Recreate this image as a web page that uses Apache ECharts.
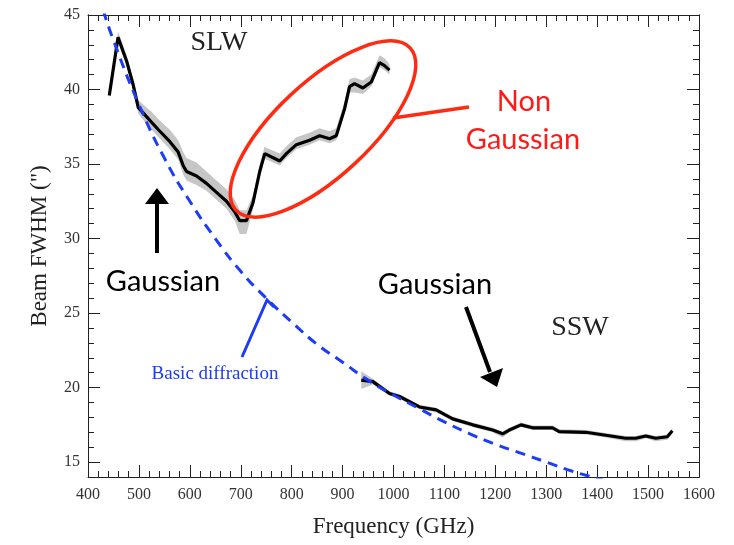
<!DOCTYPE html>
<html>
<head>
<meta charset="utf-8">
<script src="https://cdn.jsdelivr.net/npm/echarts@6/dist/echarts.min.js"></script>
<style>
  html, body { margin: 0; padding: 0; background: #fff; }
  #chart { width: 734px; height: 545px; }
</style>
</head>
<body>
<div id="chart"></div>
<script>
// SLW band: beam FWHM versus frequency, with the spread of the measurement
const freqSLW = [441.8, 459, 475.9, 488.8, 498.6, 511.8, 524.9, 541.2, 560.8, 577.1, 586.9, 593.5,
  613.1, 632.7, 652.4, 672, 688.2, 698, 711.2, 724.1, 737.3, 747.1, 750.4, 776.5, 789.6, 809.2,
  835.3, 854.9, 874.5, 887.6, 903.9, 913.7, 923.5, 939.8, 956.3, 972.5, 982.4, 992.2];
const fwhmSLW = [39.6, 43.5, 41.9, 40.3, 38.8, 38.3, 37.8, 37.2, 36.5, 35.8, 34.9, 34.5,
  34.2, 33.7, 33.1, 32.5, 31.8, 31.2, 31.2, 32.4, 34.5, 35.7, 35.6, 35.2, 35.7, 36.3,
  36.6, 36.9, 36.7, 36.9, 38.7, 40.2, 40.4, 40.1, 40.5, 41.8, 41.6, 41.3];
// lower / upper spread around the SLW curve
const spreadLoSLW = [0.2, 0.3, 0.3, 0.3, 0.4, 0.5, 0.5, 0.5, 0.5, 0.5, 0.6, 0.6,
  0.6, 0.5, 0.5, 0.5, 0.6, 0.9, 0.9, 0.4, 0.3, 0.3, 0.3, 0.3, 0.3, 0.3,
  0.3, 0.3, 0.3, 0.3, 0.3, 0.4, 0.6, 0.4, 0.3, 0.3, 0.3, 0.3];
const spreadHiSLW = [0.2, 0.4, 0.4, 0.4, 0.5, 0.6, 0.7, 0.7, 0.8, 0.8, 0.9, 0.9,
  0.9, 0.8, 0.8, 0.8, 0.8, 0.7, 0.7, 0.5, 0.5, 0.5, 0.5, 0.5, 0.5, 0.5,
  0.5, 0.5, 0.5, 0.5, 0.5, 0.5, 0.4, 0.5, 0.5, 0.5, 0.5, 0.4];

// SSW band
const freqSSW = [936.7, 959.4, 992.2, 1011.8, 1051, 1083.7, 1116.3, 1155.5, 1194.7, 1214.3, 1227.5,
  1250.4, 1273.1, 1312.4, 1325.5, 1377.8, 1416.9, 1456.1, 1475.7, 1495.5, 1515, 1537.8, 1547.6];
const fwhmSSW = [20.5, 20.4, 19.6, 19.4, 18.7, 18.5, 17.9, 17.5, 17.15, 16.9, 17.15,
  17.5, 17.3, 17.3, 17.05, 17.0, 16.8, 16.6, 16.6, 16.75, 16.6, 16.7, 17.1];
const spreadLoSSW = [0.6, 0.2, 0.15, 0.15, 0.15, 0.15, 0.15, 0.15, 0.15, 0.25, 0.15,
  0.15, 0.15, 0.15, 0.15, 0.15, 0.15, 0.2, 0.2, 0.15, 0.2, 0.2, 0.15];
const spreadHiSSW = [0.6, 0.2, 0.15, 0.15, 0.15, 0.15, 0.15, 0.15, 0.15, 0.15, 0.15,
  0.15, 0.15, 0.15, 0.15, 0.15, 0.15, 0.15, 0.15, 0.15, 0.15, 0.15, 0.15];

// Basic diffraction-limited beam width
const freqDiff = [430, 450, 500, 550, 600, 650, 700, 750, 800, 850, 900, 950, 1000, 1050,
  1100, 1150, 1200, 1250, 1300, 1350, 1400, 1420];
const fwhmDiff = [45.3, 43.3, 39.0, 35.4, 32.5, 30.0, 27.8, 26.0, 24.4, 22.9, 21.7, 20.5, 19.5, 18.6,
  17.7, 16.9, 16.2, 15.6, 15.0, 14.4, 13.9, 13.7];

// Axis ticks
const yMajorTicks = [15, 20, 25, 30, 35, 40, 45];
const yMinorTicks = [];
for (let v = 15; v <= 45; v++) yMinorTicks.push(v);

const pairs = (xs, ys) => xs.map((x, i) => [x, ys[i]]);

const chart = echarts.init(document.getElementById('chart'));

const serif = 'Liberation Serif';

const xAxisBase = {
  type: 'value', min: 400, max: 1600, interval: 100,
  axisLine: { show: true, onZero: false, lineStyle: { color: '#222', width: 1 } },
  axisTick: { show: true, inside: true, length: 12, lineStyle: { color: '#222' } },
  minorTick: { show: true, splitNumber: 5, length: 6, lineStyle: { color: '#222' } },
  splitLine: { show: false }, minorSplitLine: { show: false }
};
const yAxisBase = {
  type: 'value', min: 14, max: 45,
  axisLine: { show: true, onZero: false, lineStyle: { color: '#222', width: 1 } },
  splitLine: { show: false },
  axisLabel: { show: false }
};

// Uncertainty envelope drawn as one polygon through the axis scales
const bandSeries = (xs, ys, lo, hi) => ({
  type: 'custom', silent: true, z: 1,
  data: xs.map((x, i) => [x, ys[i] - lo[i], ys[i] + hi[i]]),
  encode: { x: 0, y: [1, 2] },
  renderItem: (params, api) => {
    if (params.dataIndex !== 0) return null;
    const upper = xs.map((x, i) => api.coord([x, ys[i] + hi[i]]));
    const lowerPts = xs.map((x, i) => api.coord([x, ys[i] - lo[i]])).reverse();
    return {
      type: 'polygon',
      shape: { points: upper.concat(lowerPts) },
      style: { fill: '#c6c6c6' }
    };
  }
});

const curveSeries = (name, xs, ys) => ({
  name: name, type: 'line', data: pairs(xs, ys), symbol: 'none',
  lineStyle: { color: '#000', width: 3.2 }, z: 3
});

const plain = v => String(v);

chart.setOption({
  animation: false,
  grid: { left: 88, right: 35, top: 15, bottom: 68, containLabel: false },
  xAxis: [
    Object.assign({}, xAxisBase, {
      position: 'bottom',
      name: 'Frequency (GHz)', nameLocation: 'middle', nameGap: 38,
      nameTextStyle: { fontFamily: serif, fontSize: 23, color: '#222' },
      axisLabel: { show: true, margin: 10, formatter: plain, fontFamily: serif, fontSize: 16, color: '#333' }
    }),
    Object.assign({}, xAxisBase, { position: 'top', axisLabel: { show: false } })
  ],
  yAxis: [
    Object.assign({}, yAxisBase, {
      position: 'left',
      name: 'Beam FWHM (")', nameLocation: 'middle', nameGap: 37,
      nameTextStyle: { fontFamily: serif, fontSize: 23, color: '#222' },
      axisTick: { show: true, inside: true, length: 12, customValues: yMajorTicks, lineStyle: { color: '#222' } },
      axisLabel: { show: true, margin: 8, customValues: yMajorTicks, formatter: plain, fontFamily: serif, fontSize: 16, color: '#333' }
    }),
    Object.assign({}, yAxisBase, {
      position: 'left',
      axisTick: { show: true, inside: true, length: 6, customValues: yMinorTicks, lineStyle: { color: '#222' } }
    }),
    Object.assign({}, yAxisBase, {
      position: 'right',
      axisTick: { show: true, inside: true, length: 12, customValues: yMajorTicks, lineStyle: { color: '#222' } }
    }),
    Object.assign({}, yAxisBase, {
      position: 'right',
      axisTick: { show: true, inside: true, length: 6, customValues: yMinorTicks, lineStyle: { color: '#222' } }
    })
  ],
  series: [
    bandSeries(freqSLW, fwhmSLW, spreadLoSLW, spreadHiSLW),
    bandSeries(freqSSW, fwhmSSW, spreadLoSSW, spreadHiSSW),
    curveSeries('SLW', freqSLW, fwhmSLW),
    curveSeries('SSW', freqSSW, fwhmSSW),
    {
      name: 'Basic diffraction', type: 'line', data: pairs(freqDiff, fwhmDiff),
      symbol: 'none', smooth: true, clip: true,
      lineStyle: { color: '#1c3cf5', width: 3, type: [10, 7] }, z: 4
    }
  ],
  graphic: [
    // band labels
    { type: 'text', z: 100, x: 219, y: 43, style: { text: 'SLW', font: '28px "Liberation Serif"', fill: '#222', align: 'center', verticalAlign: 'middle' } },
    { type: 'text', z: 100, x: 580, y: 328, style: { text: 'SSW', font: '28px "Liberation Serif"', fill: '#222', align: 'center', verticalAlign: 'middle' } },
    // Gaussian callouts
    { type: 'text', z: 100, x: 163, y: 282, style: { text: 'Gaussian', font: '29px Lato', fill: '#000', align: 'center', verticalAlign: 'middle' } },
    { type: 'text', z: 100, x: 435, y: 285, style: { text: 'Gaussian', font: '29px Lato', fill: '#000', align: 'center', verticalAlign: 'middle' } },
    { type: 'line', z: 100, shape: { x1: 157, y1: 253, x2: 157, y2: 200 }, style: { stroke: '#000', lineWidth: 4 } },
    { type: 'polygon', z: 100, shape: { points: [[157, 188], [145, 204], [169, 204]] }, style: { fill: '#000' } },
    { type: 'line', z: 100, shape: { x1: 466, y1: 307, x2: 490, y2: 372 }, style: { stroke: '#000', lineWidth: 4 } },
    { type: 'polygon', z: 100, shape: { points: [[497, 387], [480, 377], [503, 368]] }, style: { fill: '#000' } },
    // non-Gaussian callout
    { type: 'ellipse', z: 100, x: 323, y: 129, rotation: 0.75, shape: { cx: 0, cy: 0, rx: 119, ry: 47 }, style: { fill: 'none', stroke: '#ff2a12', lineWidth: 3.5 } },
    { type: 'line', z: 100, shape: { x1: 393, y1: 118, x2: 469, y2: 107 }, style: { stroke: '#ff2a12', lineWidth: 3.5 } },
    { type: 'text', z: 100, x: 524, y: 102, style: { text: 'Non', font: '29px Lato', fill: '#ff1a1a', align: 'center', verticalAlign: 'middle' } },
    { type: 'text', z: 100, x: 523, y: 140, style: { text: 'Gaussian', font: '29px Lato', fill: '#ff1a1a', align: 'center', verticalAlign: 'middle' } },
    // diffraction callout
    { type: 'polyline', z: 100, shape: { points: [[242, 357], [267, 300], [274, 307]] }, style: { stroke: '#1c3cf5', lineWidth: 3, fill: 'none' } },
    { type: 'text', z: 100, x: 215, y: 374, style: { text: 'Basic diffraction', font: '19px "Liberation Serif"', fill: '#1c3cf5', align: 'center', verticalAlign: 'middle' } }
  ]
});
</script>
</body>
</html>
